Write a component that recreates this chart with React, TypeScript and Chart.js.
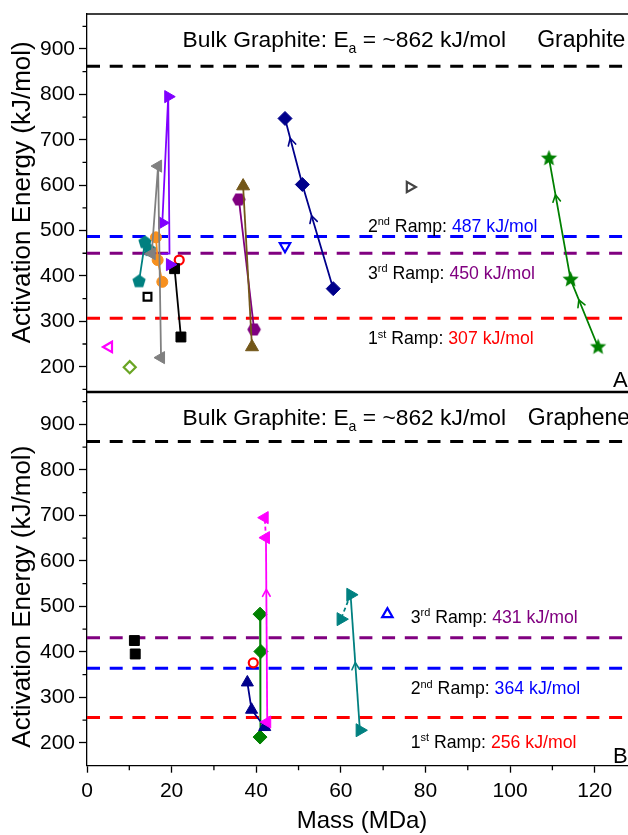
import React, { useEffect, useRef } from 'react';
import { Chart, registerables } from 'chart.js';
Chart.register(...registerables);

const FONT = '"Liberation Sans", Arial, Helvetica, sans-serif';

// ---- axes ----
const xMin = 0;
const xMax = 130;
const xTickValues = [0, 20, 40, 60, 80, 100, 120];
const xMinorValues = [10, 30, 50, 70, 90, 110, 130];
const yTickValues = [200, 300, 400, 500, 600, 700, 800, 900];
const yMinorValues = [150, 250, 350, 450, 550, 650, 750, 850, 950];
const graphiteRange = [145.4, 977.1];
const grapheneRange = [150.1, 969.4];
const yTitle = 'Activation Energy (kJ/mol)';
const xTitle = 'Mass (MDa)';

// ---- reference energies ----
const bulkGraphiteEa = 862;
const rampOrdinals = ['1', '2', '3'];
const rampSuffixes = ['st', 'nd', 'rd'];
const graphiteRampEa = [307, 487, 450];
const grapheneRampEa = [256, 364, 431];
const rampColors = ['#ff0000', '#0000ff', '#800080'];

// ---- Panel A (Graphite) ----
const aGrayMass = [15.3, 16.8, 17.5];
const aGrayEa = [449, 642, 220];
const aVioletMass = [17.6, 19.5, 19.2, 17.8];
const aVioletEa = [449, 449, 795, 517];
const aVioletLoneMass = [19.6];
const aVioletLoneEa = [425];
const aTealMass = [12.3, 13.7, 14.8];
const aTealEa = [388, 474, 457];
const aOrangeMass = [16.3, 16.7, 17.8];
const aOrangeEa = [485, 435, 387];
const aBlackMass = [20.7, 22.2];
const aBlackEa = [416, 265.5];
const aRedOpenMass = [21.8];
const aRedOpenEa = [435];
const aBlackOpenMass = [14.3];
const aBlackOpenEa = [354];
const aMagentaOpenMass = [5.2];
const aMagentaOpenEa = [243.5];
const aLimeOpenMass = [10.1];
const aLimeOpenEa = [199];
const aBrownMass = [36.9, 39.0];
const aBrownEa = [598, 243.5];
const aPurpleHexMass = [35.9, 39.5];
const aPurpleHexEa = [568.5, 282];
const aNavyMass = [58.2, 50.9, 46.8];
const aNavyEa = [372, 601.5, 747];
const aBlueOpenMass = [46.8];
const aBlueOpenEa = [465.5];
const aDarkOpenMass = [76.3];
const aDarkOpenEa = [596];
const aGreenStarMass = [120.8, 114.3, 109.2];
const aGreenStarEa = [243.4, 392, 659];

// ---- Panel B (Graphene) ----
const bBlackMass = [11.2, 11.4];
const bBlackEa = [425, 395.5];
const bNavyMass = [37.9, 38.9, 42.0];
const bNavyEa = [333, 273, 235];
const bRedOpenMass = [39.3];
const bRedOpenEa = [376];
const bGreenMass = [40.9, 41.1, 40.9];
const bGreenEa = [483, 401, 213];
const bMagentaMass = [42.6, 42.3, 42.0];
const bMagentaEa = [246, 651, 695];
const bTealMass = [64.5, 62.3, 60.0];
const bTealEa = [228, 525.6, 472];
const bBlueOpenMass = [71.0];
const bBlueOpenEa = [483];

type Run = { t: string; c?: string; sup?: boolean; sub?: boolean };
type Label = { x: number; y: number; size: number; runs: Run[] };

function pts(mass: number[], ea: number[]) {
  return mass.map((m, i) => ({ x: m, y: ea[i] }));
}

function polyImage(color: string, n: number, r: number, start: number, inner?: number) {
  const size = Math.ceil(2 * r + 2);
  const c = document.createElement('canvas');
  c.width = size;
  c.height = size;
  const g = c.getContext('2d')!;
  g.fillStyle = color;
  g.beginPath();
  const count = inner ? n * 2 : n;
  for (let k = 0; k < count; k++) {
    const ang = start + (k * 2 * Math.PI) / count;
    const rr = inner && k % 2 === 1 ? r * inner : r;
    const px = size / 2 + rr * Math.cos(ang);
    const py = size / 2 + rr * Math.sin(ang);
    if (k === 0) g.moveTo(px, py);
    else g.lineTo(px, py);
  }
  g.closePath();
  g.fill();
  return c;
}

type S = {
  mass: number[]; ea: number[]; color: string; ps: any; r: number | number[];
  rot?: number; open?: boolean; line?: boolean; dashSeg?: number; arrows?: number[]; arrowAt?: number;
};

function mk(s: S) {
  return {
    type: 'line',
    data: pts(s.mass, s.ea),
    showLine: !!s.line,
    borderColor: s.color,
    backgroundColor: s.color,
    borderWidth: 1.8,
    pointStyle: s.ps,
    pointRadius: s.r,
    pointRotation: s.rot || 0,
    pointBackgroundColor: s.open ? '#ffffff' : s.color,
    pointBorderColor: s.color,
    pointBorderWidth: s.open ? 2.2 : 1,
    segment: s.dashSeg !== undefined
      ? { borderDash: (ctx: any) => (ctx.p0DataIndex === s.dashSeg ? [4, 3] : undefined) }
      : undefined,
    arrowSegments: s.arrows,
    arrowAt: s.arrowAt,
    order: 0,
  } as any;
}

function refLine(v: number, color: string) {
  return {
    type: 'line',
    data: [{ x: xMin, y: v }, { x: xMax, y: v }],
    borderColor: color,
    borderWidth: 3,
    borderDash: [13, 9.7],
    pointRadius: 0,
    order: 10,
  } as any;
}

function rampRuns(i: number, values: number[]): Run[] {
  return [
    { t: rampOrdinals[i] },
    { t: rampSuffixes[i], sup: true },
    { t: ' Ramp: ' },
    { t: `${values[i]} kJ/mol`, c: rampColors[i] },
  ];
}

function bulkRuns(): Run[] {
  return [
    { t: 'Bulk Graphite: E' },
    { t: 'a', sub: true },
    { t: ` = ~${bulkGraphiteEa} kJ/mol` },
  ];
}

function drawRuns(ctx: CanvasRenderingContext2D, x: number, y: number, size: number, runs: Run[]) {
  let cx = x;
  ctx.textAlign = 'left';
  ctx.textBaseline = 'alphabetic';
  for (const r of runs) {
    const small = r.sup || r.sub;
    const fs = small ? size * 0.62 : size;
    ctx.font = `${fs}px ${FONT}`;
    ctx.fillStyle = r.c || '#000000';
    const dy = r.sup ? -size * 0.38 : r.sub ? size * 0.25 : 0;
    ctx.fillText(r.t, cx, y + dy);
    cx += ctx.measureText(r.t).width;
  }
}

function makePlugins(labels: Label[], showX: boolean, titleShift: number) {
  const frame = {
    id: 'frame',
    afterDatasetsDraw(chart: any) {
      const { ctx, chartArea: a } = chart;
      const ys = chart.scales.y;
      ctx.save();
      ctx.strokeStyle = '#000';
      ctx.lineWidth = 1.3;
      ctx.beginPath();
      ctx.moveTo(a.left - 0.65, a.top);
      ctx.lineTo(a.right, a.top);
      if (!showX) {
        ctx.moveTo(a.left - 0.65, a.bottom);
        ctx.lineTo(a.right, a.bottom);
      }
      for (const v of yMinorValues) {
        if (v < ys.min || v > ys.max) continue;
        const py = ys.getPixelForValue(v);
        ctx.moveTo(a.left - 4.5, py);
        ctx.lineTo(a.left, py);
      }
      if (showX) {
        const xs = chart.scales.x;
        for (const v of xMinorValues) {
          const px = xs.getPixelForValue(v);
          ctx.moveTo(px, a.bottom);
          ctx.lineTo(px, a.bottom + 4.5);
        }
      }
      ctx.stroke();
      ctx.restore();
    },
  };
  const arrows = {
    id: 'arrows',
    afterDatasetsDraw(chart: any) {
      const ctx = chart.ctx;
      chart.data.datasets.forEach((d: any, i: number) => {
        if (!d.arrowSegments) return;
        const meta = chart.getDatasetMeta(i);
        d.arrowSegments.forEach((s: number) => {
          const a = meta.data[s];
          const b = meta.data[s + 1];
          const f = d.arrowAt ?? 0.66;
          const px = a.x + (b.x - a.x) * f;
          const py = a.y + (b.y - a.y) * f;
          const len = Math.hypot(b.x - a.x, b.y - a.y);
          const ux = (b.x - a.x) / len;
          const uy = (b.y - a.y) / len;
          const L = 7;
          const W = 3.8;
          ctx.save();
          ctx.strokeStyle = d.borderColor;
          ctx.lineWidth = 1.6;
          ctx.lineCap = 'round';
          ctx.lineJoin = 'round';
          ctx.beginPath();
          ctx.moveTo(px - ux * L - uy * W, py - uy * L + ux * W);
          ctx.lineTo(px, py);
          ctx.lineTo(px - ux * L + uy * W, py - uy * L - ux * W);
          ctx.stroke();
          ctx.restore();
        });
      });
    },
  };
  const text = {
    id: 'texts',
    afterDraw(chart: any) {
      const ctx = chart.ctx;
      const xs = chart.scales.x;
      const ys = chart.scales.y;
      const a = chart.chartArea;
      ctx.save();
      for (const l of labels) {
        drawRuns(ctx, xs.getPixelForValue(l.x), ys.getPixelForValue(l.y), l.size, l.runs);
      }
      // y-axis title (rotated)
      ctx.translate(22.5, (a.top + a.bottom) / 2 + titleShift);
      ctx.rotate(-Math.PI / 2);
      ctx.font = `26px ${FONT}`;
      ctx.fillStyle = '#000';
      ctx.textAlign = 'center';
      ctx.textBaseline = 'middle';
      ctx.fillText(yTitle, 0, 0);
      ctx.restore();
    },
  };
  return [frame, arrows, text];
}

function buildChart(canvas: HTMLCanvasElement, datasets: any[], range: number[], labels: Label[], showX: boolean, padding: any, titleShift: number) {
  const tickFont = { family: FONT, size: 21 };
  return new Chart(canvas, {
    type: 'line',
    data: { datasets },
    options: {
      responsive: false,
      animation: false,
      devicePixelRatio: 1,
      events: [],
      layout: { padding, autoPadding: false },
      plugins: { legend: { display: false }, tooltip: { enabled: false }, title: { display: false } },
      scales: {
        x: {
          type: 'linear',
          min: xMin,
          max: xMax,
          display: showX,
          afterBuildTicks: (s: any) => { s.ticks = xTickValues.map((v) => ({ value: v })); },
          afterFit: (s: any) => {
            if (showX) s.height = 69.3;
            s.paddingLeft = 0;
            s.paddingRight = 0;
          },
          ticks: { font: tickFont, color: '#000', padding: 6, maxRotation: 0, autoSkip: false },
          grid: { drawOnChartArea: false, drawTicks: true, tickLength: 7, tickWidth: 1.3, color: '#000' },
          border: { display: true, color: '#000', width: 1.3 },
          title: {
            display: true,
            text: xTitle,
            color: '#000',
            font: { family: FONT, size: 24, lineHeight: 1.1 },
            padding: { top: 0, bottom: 0 },
          },
        },
        y: {
          type: 'linear',
          min: range[0],
          max: range[1],
          afterBuildTicks: (s: any) => { s.ticks = yTickValues.map((v) => ({ value: v })); },
          afterFit: (s: any) => {
            s.width = 87;
            s.paddingTop = 0;
            s.paddingBottom = 0;
          },
          ticks: { font: tickFont, color: '#000', padding: 4, autoSkip: false },
          grid: { drawOnChartArea: false, drawTicks: true, tickLength: 8, tickWidth: 1.3, color: '#000' },
          border: { display: true, color: '#000', width: 1.3 },
          title: { display: false },
        },
      },
    } as any,
    plugins: makePlugins(labels, showX, titleShift) as any,
  });
}

export default function App() {
  const topRef = useRef<HTMLCanvasElement>(null);
  const botRef = useRef<HTMLCanvasElement>(null);

  useEffect(() => {
    const pentagon = polyImage('#008080', 5, 7, -Math.PI / 2);
    const hexagon = polyImage('#800080', 6, 6.8, 0);
    const star = polyImage('#008000', 5, 8.5, -Math.PI / 2, 0.45);

    const aSets = [
      mk({ mass: aGrayMass, ea: aGrayEa, color: '#808080', ps: 'triangle', r: 7, rot: -90, line: true }),
      mk({ mass: aOrangeMass, ea: aOrangeEa, color: '#f7901e', ps: 'circle', r: 5.5, line: true }),
      mk({ mass: aTealMass, ea: aTealEa, color: '#008080', ps: pentagon, r: 7, line: true }),
      mk({ mass: aVioletMass, ea: aVioletEa, color: '#8000ff', ps: 'triangle', r: [0, 0, 7, 7], rot: 90, line: true }),
      mk({ mass: aVioletLoneMass, ea: aVioletLoneEa, color: '#8000ff', ps: 'triangle', r: 7, rot: 90 }),
      mk({ mass: aBlackMass, ea: aBlackEa, color: '#000000', ps: 'rect', r: 7, line: true }),
      mk({ mass: aRedOpenMass, ea: aRedOpenEa, color: '#ff0000', ps: 'circle', r: 4.5, open: true }),
      mk({ mass: aBlackOpenMass, ea: aBlackOpenEa, color: '#000000', ps: 'rect', r: 5.5, open: true }),
      mk({ mass: aMagentaOpenMass, ea: aMagentaOpenEa, color: '#ff00ff', ps: 'triangle', r: 6, rot: -90, open: true }),
      mk({ mass: aLimeOpenMass, ea: aLimeOpenEa, color: '#6aa524', ps: 'rectRot', r: 6, open: true }),
      mk({ mass: aBrownMass, ea: aBrownEa, color: '#735719', ps: 'triangle', r: 7.5, line: true }),
      mk({ mass: aPurpleHexMass, ea: aPurpleHexEa, color: '#800080', ps: hexagon, r: 7, line: true }),
      mk({ mass: aNavyMass, ea: aNavyEa, color: '#00008b', ps: 'rectRot', r: 7, line: true, arrows: [0, 1], arrowAt: 0.7 }),
      mk({ mass: aBlueOpenMass, ea: aBlueOpenEa, color: '#0000ff', ps: 'triangle', r: 6, rot: 180, open: true }),
      mk({ mass: aDarkOpenMass, ea: aDarkOpenEa, color: '#444444', ps: 'triangle', r: 6, rot: 90, open: true }),
      mk({ mass: aGreenStarMass, ea: aGreenStarEa, color: '#008000', ps: star, r: 8, line: true, arrows: [0, 1], arrowAt: 0.7 }),
      refLine(bulkGraphiteEa, '#000000'),
      ...graphiteRampEa.map((v, i) => refLine(v, rampColors[i])),
    ];

    const bSets = [
      mk({ mass: bMagentaMass, ea: bMagentaEa, color: '#ff00ff', ps: 'triangle', r: 7, rot: -90, line: true, dashSeg: 1, arrows: [0], arrowAt: 0.72 }),
      mk({ mass: bNavyMass, ea: bNavyEa, color: '#00008b', ps: 'triangle', r: 7, line: true }),
      mk({ mass: bGreenMass, ea: bGreenEa, color: '#008000', ps: 'rectRot', r: 7, line: true }),
      mk({ mass: bRedOpenMass, ea: bRedOpenEa, color: '#ff0000', ps: 'circle', r: 4.5, open: true }),
      mk({ mass: bBlackMass, ea: bBlackEa, color: '#000000', ps: 'rect', r: 7 }),
      mk({ mass: bTealMass, ea: bTealEa, color: '#008080', ps: 'triangle', r: 7.5, rot: 90, line: true, dashSeg: 1, arrows: [0], arrowAt: 0.5 }),
      mk({ mass: bBlueOpenMass, ea: bBlueOpenEa, color: '#0000ff', ps: 'triangle', r: 6, open: true }),
      refLine(bulkGraphiteEa, '#000000'),
      ...grapheneRampEa.map((v, i) => refLine(v, rampColors[i])),
    ];

    const aLabels: Label[] = [
      { x: 22.6, y: 904, size: 22.8, runs: bulkRuns() },
      { x: 106.4, y: 904, size: 23, runs: [{ t: 'Graphite' }] },
      { x: 66.4, y: 497, size: 17.7, runs: rampRuns(1, graphiteRampEa) },
      { x: 66.4, y: 394, size: 17.7, runs: rampRuns(2, graphiteRampEa) },
      { x: 66.4, y: 249, size: 17.7, runs: rampRuns(0, graphiteRampEa) },
      { x: 124.3, y: 154.5, size: 22, runs: [{ t: 'A' }] },
    ];
    const bLabels: Label[] = [
      { x: 22.6, y: 898.5, size: 22.8, runs: bulkRuns() },
      { x: 104.2, y: 898.5, size: 23, runs: [{ t: 'Graphene' }] },
      { x: 76.5, y: 464, size: 17.7, runs: rampRuns(2, grapheneRampEa) },
      { x: 76.5, y: 307, size: 17.7, runs: rampRuns(1, grapheneRampEa) },
      { x: 76.5, y: 190, size: 17.7, runs: rampRuns(0, grapheneRampEa) },
      { x: 124.3, y: 155, size: 22, runs: [{ t: 'B' }] },
    ];

    const c1 = buildChart(topRef.current!, aSets, graphiteRange, aLabels, false, { top: 14, bottom: 0.5, left: 0, right: 3 }, -10.5);
    const c2 = buildChart(botRef.current!, bSets, grapheneRange, bLabels, true, { top: 0.7, bottom: 0, left: 0, right: 3 }, 17.5);
    return () => {
      c1.destroy();
      c2.destroy();
    };
  }, []);

  return (
    <div style={{ position: 'fixed', left: 0, top: 0, width: 628, height: 835, overflow: 'hidden', background: '#ffffff' }}>
      <canvas ref={topRef} width={640} height={392} style={{ display: 'block', width: 640, height: 392 }} />
      <canvas ref={botRef} width={640} height={443} style={{ display: 'block', width: 640, height: 443 }} />
    </div>
  );
}
